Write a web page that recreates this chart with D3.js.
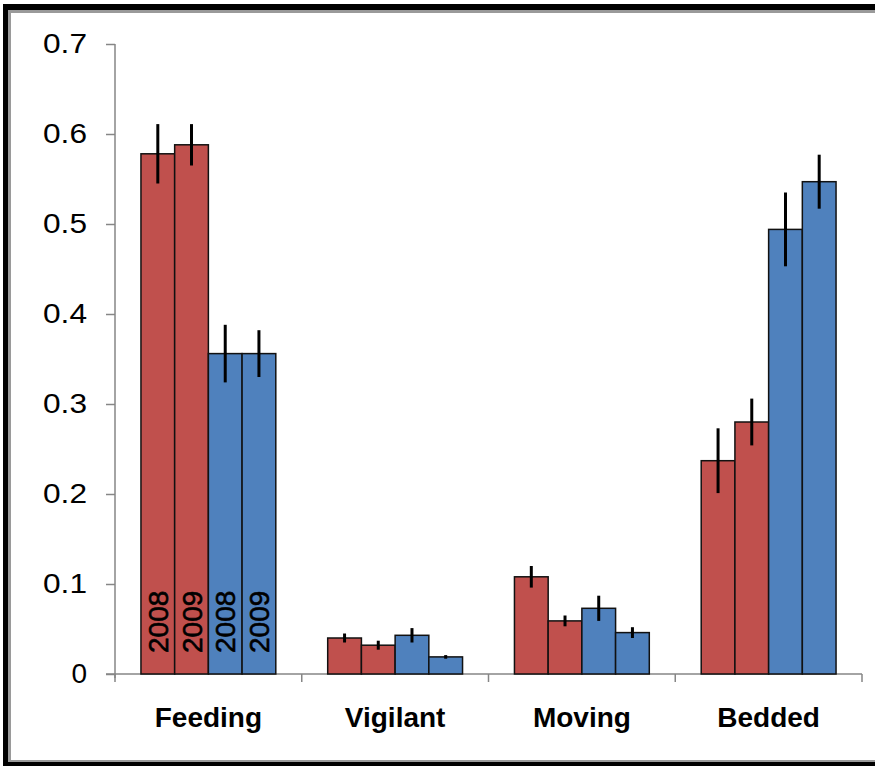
<!DOCTYPE html>
<html>
<head>
<meta charset="utf-8">
<script src="https://cdn.jsdelivr.net/npm/d3@7"></script>
<style>
  html, body { margin: 0; padding: 0; background: #fff; }
  svg { display: block; }
</style>
</head>
<body>
<svg id="chart"></svg>
<script>
// data
const categories = ['Feeding', 'Vigilant', 'Moving', 'Bedded'];
const seriesKeys = ['r2008', 'r2009', 'b2008', 'b2009'];
const seriesYears = ['2008', '2009', '2008', '2009'];
const seriesColors = ['#C0504D', '#C0504D', '#4F81BD', '#4F81BD'];
// one row per category, one entry per series
const means = [
  [0.578, 0.588, 0.356, 0.356],
  [0.040, 0.032, 0.043, 0.019],
  [0.108, 0.059, 0.073, 0.046],
  [0.237, 0.280, 0.494, 0.547]
];
const errs = [
  [0.033, 0.023, 0.032, 0.026],
  [0.005, 0.005, 0.008, 0.002],
  [0.012, 0.006, 0.014, 0.006],
  [0.036, 0.026, 0.041, 0.030]
];
const yTicks = [0, 0.1, 0.2, 0.3, 0.4, 0.5, 0.6, 0.7];

const W = 875, H = 766;
const svg = d3.select('#chart').attr('width', W).attr('height', H);

// frame (black outer, grey inner)
const frame = svg.append('g');
frame.append('rect').attr('x', 3).attr('y', 4).attr('width', W).attr('height', 6).attr('fill', '#000');
frame.append('rect').attr('x', 3).attr('y', 4).attr('width', 5).attr('height', H).attr('fill', '#000');
frame.append('rect').attr('x', 3).attr('y', 762).attr('width', W).attr('height', 6).attr('fill', '#000');
frame.append('rect').attr('x', 8).attr('y', 10).attr('width', W).attr('height', 3).attr('fill', '#9a9a9a');
frame.append('rect').attr('x', 8).attr('y', 10).attr('width', 3).attr('height', 752).attr('fill', '#9a9a9a');
frame.append('rect').attr('x', 8).attr('y', 760).attr('width', W).attr('height', 2).attr('fill', '#9a9a9a');

const x = d3.scaleBand().domain(categories).range([115, 862]).padding(0);
const xs = d3.scaleBand().domain(seriesKeys).range([0, x.bandwidth()]).paddingInner(0).paddingOuter(0.77);
const y = d3.scaleLinear().domain([0, 0.7]).range([674, 44]);

const font = '"Liberation Sans", Arial, sans-serif';

// y axis
const yAxis = svg.append('g').attr('transform', 'translate(115,0)')
  .call(d3.axisLeft(y).tickValues(yTicks).tickSize(9).tickPadding(19).tickFormat(d => d === 0 ? '0' : d3.format('.1f')(d)));
yAxis.select('.domain').attr('d', `M0,${y(0.7)}V${y(0) + 4}`);
yAxis.selectAll('.domain,.tick line').attr('stroke', '#868686').attr('stroke-width', 1.5);
yAxis.selectAll('text').style('font-family', font).style('font-size', '28px').attr('fill', '#000')
  .attr('textLength', d => d === 0 ? null : 44).attr('lengthAdjust', 'spacingAndGlyphs');

// x axis
const xAxis = svg.append('g').attr('transform', `translate(0,${y(0)})`);
xAxis.append('line').attr('x1', 106).attr('x2', 862).attr('y1', 0).attr('y2', 0)
  .attr('stroke', '#868686').attr('stroke-width', 1.5);
xAxis.selectAll('.xt').data(categories.concat(['end'])).join('line')
  .attr('class', 'xt')
  .attr('x1', (d, i) => i < categories.length ? x(d) : x.range()[1])
  .attr('x2', (d, i) => i < categories.length ? x(d) : x.range()[1])
  .attr('y1', 0).attr('y2', 8)
  .attr('stroke', '#868686').attr('stroke-width', 1.5);
xAxis.selectAll('.xl').data(categories).join('text')
  .attr('class', 'xl')
  .attr('x', d => x(d) + x.bandwidth() / 2)
  .attr('y', 53)
  .attr('text-anchor', 'middle')
  .style('font-family', font).style('font-size', '28px').style('font-weight', 'bold')
  .attr('fill', '#000')
  .text(d => d);

// bars
const groups = svg.selectAll('.grp').data(categories).join('g')
  .attr('class', 'grp')
  .attr('transform', d => `translate(${x(d)},0)`);

groups.each(function(cat, ci) {
  const g = d3.select(this);
  const rows = seriesKeys.map((k, si) => ({ k, si, v: means[ci][si], e: errs[ci][si] }));
  g.selectAll('rect').data(rows).join('rect')
    .attr('x', d => xs(d.k))
    .attr('y', d => y(d.v))
    .attr('width', xs.bandwidth())
    .attr('height', d => y(0) - y(d.v))
    .attr('fill', d => seriesColors[d.si])
    .attr('stroke', '#111').attr('stroke-width', 1.5);
  g.selectAll('line.err').data(rows).join('line')
    .attr('class', 'err')
    .attr('x1', d => xs(d.k) + xs.bandwidth() / 2)
    .attr('x2', d => xs(d.k) + xs.bandwidth() / 2)
    .attr('y1', d => y(d.v + d.e))
    .attr('y2', d => y(d.v - d.e))
    .attr('stroke', '#000').attr('stroke-width', 3);
  if (ci === 0) {
    g.selectAll('text.yr').data(rows).join('text')
      .attr('class', 'yr')
      .attr('transform', d => `translate(${xs(d.k) + xs.bandwidth() / 2},${y(0) - 21}) rotate(-90)`)
      .attr('dy', '0.36em')
      .attr('text-anchor', 'start')
      .style('font-family', font).style('font-size', '28px')
      .attr('fill', '#000').attr('stroke', '#000').attr('stroke-width', 0.6)
      .text(d => seriesYears[d.si]);
  }
});
</script>
</body>
</html>
